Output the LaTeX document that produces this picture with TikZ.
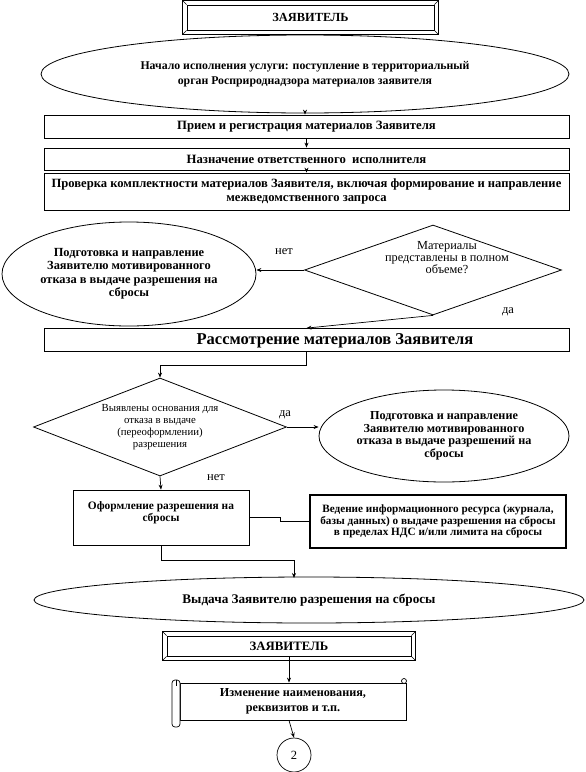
\documentclass[tikz,border=0pt]{standalone}
\usepackage{fontspec}
\setmainfont{Liberation Serif}
\usetikzlibrary{shapes.geometric, arrows.meta, calc}

\tikzset{
  box/.style={draw, line width=0.8pt, inner sep=1pt, align=center, font=\fontsize{12.7}{14}\selectfont\bfseries},
  oval/.style={draw, ellipse, line width=0.8pt, inner sep=0pt, align=center, font=\fontsize{12.4}{13.5}\selectfont\bfseries},
  rhomb/.style={draw, diamond, line width=0.8pt, inner sep=0pt},
  rhombtext/.style={align=center, font=\fontsize{10.8}{11.8}\selectfont},
  lbl/.style={font=\fontsize{12.5}{13}\selectfont},
  arr/.style={-{Stealth[length=5pt,width=4pt]}, line width=0.7pt},
  link/.style={line width=0.7pt}
}

% double frame round a named node
\newcommand{\bevelframe}[1]{%
  \draw[line width=0.7pt] ([shift={(-4,-4)}]#1.north west) rectangle ([shift={(4,4)}]#1.south east);
  \draw[line width=0.5pt] (#1.north west) -- ++(-4,-4) (#1.north east) -- ++(4,-4)
    (#1.south west) -- ++(-4,4) (#1.south east) -- ++(4,4);}

\begin{document}
\begin{tikzpicture}[x=1pt, y=-1pt]
  \useasboundingbox (0,0) rectangle (586,772);

  % Start
  \node[box, minimum width=247pt, minimum height=25pt, font=\fontsize{12.4}{13}\selectfont\bfseries] (zayav1) at (310.5,17.5) {ЗАЯВИТЕЛЬ};
  \bevelframe{zayav1}
  \node[oval, minimum width=528pt, minimum height=78pt, font=\fontsize{11.8}{15}\selectfont\bfseries] (start) at (305,74) {Начало исполнения услуги: поступление в территориальный\\орган Росприроднадзора материалов заявителя};

  % Reception and check
  \node[box, minimum width=525pt, minimum height=23pt] (reg) at (306.5,126.5) {Прием и регистрация материалов Заявителя};
  \node[box, minimum width=525pt, minimum height=22pt] (assign) at (306.5,159) {Назначение ответственного\ \ исполнителя};
  \node[box, minimum width=525pt, minimum height=37pt, font=\fontsize{12.6}{13.5}\selectfont\bfseries] (check) at (306.5,191.5) {Проверка комплектности материалов Заявителя, включая формирование и направление\\межведомственного запроса};

  \draw[arr] (start.south) -- (start.south |- reg.north);
  \draw[arr] (reg.south) -- (assign.north);
  \draw[arr] (assign.south) -- (check.north);

  % Completeness
  \node[rhomb, minimum width=257pt, minimum height=90pt] (full) at (433,270) {};
  \node[rhombtext, font=\fontsize{12.3}{12}\selectfont] (fulltxt) at (447,258) {Материалы\\представлены в полном\\объеме?};
  \node[oval, minimum width=254pt, minimum height=104pt] (refuse1) at (129,274) {Подготовка и направление\\Заявителю мотивированного\\отказа в выдаче разрешения на\\сбросы};
  \node[lbl] (no1) at (284,252) {нет};
  \node[lbl] (yes1) at (508,312) {да};
  \draw[arr] (full.west) -- (full.west -| refuse1.east);

  % Review
  \node[box, minimum width=525pt, minimum height=23pt] (review) at (306.5,340) {};
  \node[font=\fontsize{16.5}{18}\selectfont\bfseries, inner sep=0pt] (reviewtxt) at (335,341) {Рассмотрение материалов Заявителя};
  \draw[arr] (full.south) -- (review.north);

  % Grounds for refusal
  \node[rhomb, minimum width=253pt, minimum height=98pt] (grounds) at (160,427) {};
  \node[rhombtext] (groundstxt) at (160,427) {Выявлены основания для\\отказа в выдаче\\(переоформлении)\\разрешения};
  \draw[arr] (review.south) -- ++(0,13) -| (grounds.north);
  \node[oval, minimum width=250pt, minimum height=92pt, font=\fontsize{12.2}{12.5}\selectfont\bfseries] (refuse2) at (444,436) {Подготовка и направление\\Заявителю мотивированного\\отказа в выдаче разрешений на\\сбросы};
  \node[lbl] (yes2) at (285,415) {да};
  \node[lbl] (no2) at (216,478) {нет};
  \draw[arr] (grounds.east) -- (grounds.east -| refuse2.west);

  % Permit
  \node[box, minimum width=176pt, minimum height=55pt, font=\fontsize{11.4}{12}\selectfont\bfseries] (permit) at (161,517.5) {Оформление разрешения на\\сбросы\\\mbox{}};
  \node[box, line width=1.4pt, minimum width=256pt, minimum height=53pt, font=\fontsize{11.2}{11.5}\selectfont\bfseries] (registry) at (438,521.5) {Ведение информационного ресурса (журнала,\\базы данных) о выдаче разрешения на сбросы\\в пределах НДС и/или лимита на сбросы};
  \draw[arr] (grounds.south) -- (permit.north);
  \draw[link] (permit.east) -- ++(31,0) |- (registry.west);

  \node[oval, minimum width=550pt, minimum height=46pt, font=\fontsize{13.2}{14}\selectfont\bfseries] (issue) at (309,600) {Выдача Заявителю разрешения на сбросы};
  \coordinate (issuein) at (294,578);
  \draw[arr] (permit.south) -- ++(0,15) -| (issuein);

  % Changes
  \node[box, minimum width=244pt, minimum height=20pt, font=\fontsize{12.8}{13}\selectfont\bfseries] (zayav2) at (289,646) {ЗАЯВИТЕЛЬ};
  \bevelframe{zayav2}
  \node[box, minimum width=226pt, minimum height=37pt, font=\fontsize{12.2}{15}\selectfont\bfseries] (change) at (293,701.5) {Изменение наименования,\\реквизитов и т.п.};
  \draw[line width=0.7pt, fill=white, rounded corners=3pt] (172,680) rectangle (180,727);
  \draw[line width=0.7pt] (176,680) -- (176,686);
  \draw[line width=0.7pt, fill=white] (404,681) circle (2.5pt);
  \node[draw, circle, line width=0.7pt, minimum size=34pt, inner sep=0pt, font=\fontsize{12.5}{13}\selectfont] (two) at (294,755) {2};
  \draw[arr] (zayav2.south) -- (zayav2.south |- change.north);
  \draw[arr] (change.south -| zayav2.south) -- (two.north);
\end{tikzpicture}
\end{document}
